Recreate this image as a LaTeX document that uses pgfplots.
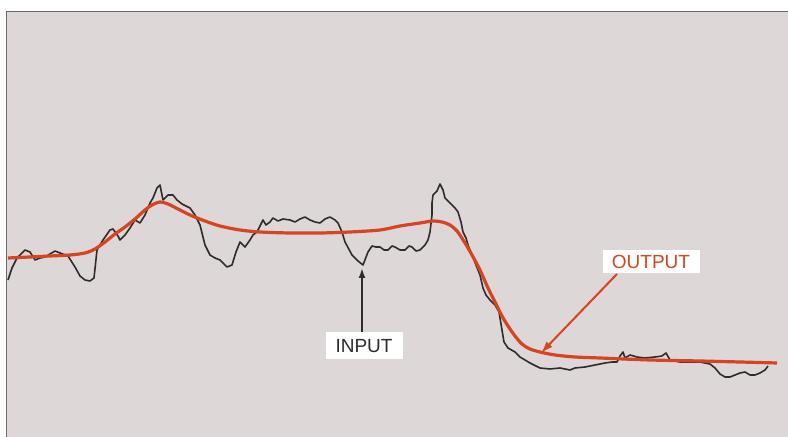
\documentclass[border=0pt]{standalone}
\usepackage{pgfplots}
\pgfplotsset{compat=1.18}
\usetikzlibrary{arrows.meta}
\usepackage{fontspec}
\setmainfont{Liberation Sans}
\definecolor{bg}{RGB}{221,215,215}
\definecolor{frame}{RGB}{110,105,105}
\definecolor{outred}{RGB}{214,68,34}
\definecolor{inblack}{RGB}{45,45,45}
\begin{document}
\begin{tikzpicture}
\begin{axis}[
  scale only axis, width=394pt, height=218.5pt,
  xmin=0, xmax=788, ymin=0, ymax=437, y dir=reverse,
  axis line style={draw=none}, ticks=none, clip=true,
]
\fill[bg] (axis cs:7,12) rectangle (axis cs:792,440);
\draw[frame, line width=0.9pt] (axis cs:792,11.5) -- (axis cs:6.5,11.5) -- (axis cs:6.5,440);
\addplot[inblack, line width=0.8pt, line join=round, no marks] coordinates {
(8,280) (12,268) (17,258) (25,250) (30,252) (35,260) (40,258) (45,257) (50,254) (55,251) (60,253) (68,256) (75,267) (80,276) (85,280) (90,281) (94,278) (97,250) (103,240) (110,230) (113,229) (118,236) (120,240) (125,235) (130,228) (135,220) (140,223) (145,215) (150,203) (153,198) (157,188) (160,185) (163,200) (168,195) (173,195) (177,200) (182,204) (190,208) (195,215) (200,225) (205,245) (210,255) (215,258) (220,260) (227,267) (232,265) (236,252) (240,242) (245,247) (250,240) (253,235) (257,232) (263,220) (266,225) (270,222) (273,218) (278,221) (283,219) (290,220) (295,222) (300,219) (305,217) (310,220) (315,222) (320,223) (325,219) (330,217) (335,220) (338,223) (342,232) (345,242) (352,255) (358,261) (363,265) (368,252) (372,246) (376,247) (380,247) (384,250) (388,250) (392,246) (395,247) (400,250) (405,250) (409,246) (412,247) (416,251) (420,250) (425,245) (428,240) (430,232) (432,215) (432,203) (433,195) (437,191) (440,184) (443,190) (445,198) (450,203) (455,208) (458,212) (461,222) (463,232) (466,238) (468,245) (472,255) (476,265) (480,275) (483,288) (486,295) (490,300) (495,305) (499,312) (502,330) (504,342) (508,348) (515,352) (520,357) (525,360) (530,363) (540,368) (550,369) (560,368) (570,370) (575,368) (585,367) (595,365) (605,363) (612,362) (617,362) (620,356) (623,352) (625,358) (630,355) (637,357) (645,358) (655,357) (662,356) (666,353) (670,360) (680,362) (690,362) (700,362) (710,364) (715,368) (720,374) (725,377) (730,377) (735,375) (740,373) (745,372) (750,375) (755,375) (760,373) (765,370) (768,366)
};
\addplot[outred, line width=1.6pt, smooth, tension=0.5, no marks] coordinates {
(8,258) (30,257) (50,256) (70,255) (85,253) (95,249) (105,242) (115,234) (125,227) (135,219) (145,210) (152,205) (160,202) (168,204) (178,209) (190,215) (205,221) (220,226) (240,230) (260,232) (290,233) (320,233) (350,232) (380,230) (400,226) (420,223) (433,221) (442,222) (450,225) (457,231) (465,243) (472,255) (480,270) (488,288) (495,302) (502,316) (508,326) (515,336) (522,344) (530,349) (540,352) (555,355) (575,357) (600,358) (650,360) (700,361) (740,362) (777,363)
};
% INPUT label and arrow
\draw[inblack, line width=0.9pt, -{Latex[length=5pt,width=3.5pt]}] (axis cs:362,334) -- (axis cs:362,268);
\node[fill=white, inner sep=0pt, minimum width=38.5pt, minimum height=13.5pt, text=inblack, font=\fontsize{9.5}{11}\selectfont] at (axis cs:364,346) {INPUT};
% OUTPUT label and arrow
\draw[outred, line width=1pt, -{Latex[length=6pt,width=4pt]}] (axis cs:617,274) -- (axis cs:541,353);
\node[fill=white, inner sep=0pt, minimum width=48.5pt, minimum height=11.5pt, text=outred, font=\fontsize{9.5}{11}\selectfont] at (axis cs:651,262) {OUTPUT};
\end{axis}
\path (current axis.south west) rectangle (current axis.north east);
\end{tikzpicture}
\end{document}
